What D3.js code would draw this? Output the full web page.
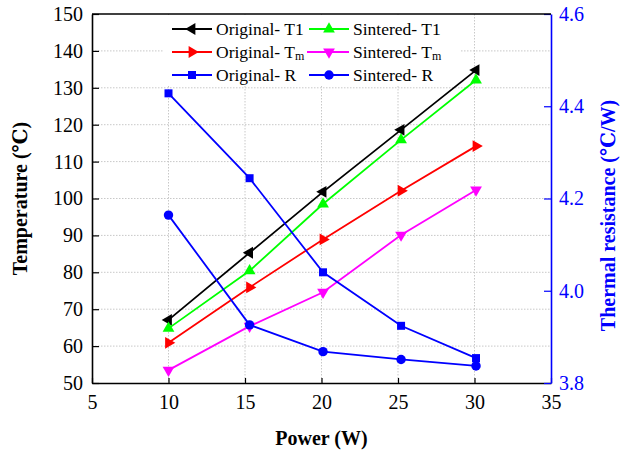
<!DOCTYPE html>
<html><head><meta charset="utf-8">
<script src="https://cdn.jsdelivr.net/npm/d3@7"></script>
<style>body{margin:0;background:#fff}svg{display:block}</style>
</head><body><svg id="c" width="621" height="454"></svg>
<script>
const power = [10, 15.3, 20.1, 25.2, 30.1];
const originalT1 = [67.1, 85.3, 101.8, 118.6, 134.8];
const sinteredT1 = [64.8, 80.4, 98.5, 115.9, 132.1];
const originalTm = [60.9, 75.9, 88.9, 102.1, 114.2];
const sinteredTm = [53.5, 65.4, 74.6, 90.1, 102.3];
const originalR = [4.428, 4.244, 4.040, 3.924, 3.854];
const sinteredR = [4.164, 3.926, 3.868, 3.851, 3.837];
const xTicks = [5, 10, 15, 20, 25, 30, 35];
const yTicks = [50, 60, 70, 80, 90, 100, 110, 120, 130, 140, 150];
const y2Ticks = [3.8, 4.0, 4.2, 4.4, 4.6];

const FONT = "'Liberation Serif', 'Times New Roman', 'DejaVu Serif', serif";
const svg = d3.select("#c");
const L = 92, R = 551, T = 14, B = 383;
const x = d3.scaleLinear().domain([5, 35]).range([L, R]);
const y = d3.scaleLinear().domain([50, 150]).range([B, T]);
const y2 = d3.scaleLinear().domain([3.8, 4.6]).range([B, T]);
const BLUE = "#0000ff";

// gridlines
const g = svg.append("g");
g.selectAll(".gy").data(yTicks.slice(1, -1)).enter().append("line")
  .attr("x1", L).attr("x2", R).attr("y1", d => y(d)).attr("y2", d => y(d))
  .attr("stroke", "#c8c8c8").attr("stroke-width", 1).attr("stroke-dasharray", "1.5,1.5");
g.selectAll(".gx").data(xTicks.slice(1, -1)).enter().append("line")
  .attr("y1", T).attr("y2", B).attr("x1", d => x(d)).attr("x2", d => x(d))
  .attr("stroke", "#c8c8c8").attr("stroke-width", 1).attr("stroke-dasharray", "1.5,1.5");

// axes
const fmt0 = d3.format("d");
const ax = svg.append("g").attr("transform", `translate(0,${B})`)
  .call(d3.axisBottom(x).tickValues(xTicks).tickFormat(fmt0).tickSizeInner(-5).tickSizeOuter(0).tickPadding(12));
const ay = svg.append("g").attr("transform", `translate(${L},0)`)
  .call(d3.axisLeft(y).tickValues(yTicks).tickFormat(fmt0).tickSizeInner(-7).tickSizeOuter(0).tickPadding(9));
const ay2 = svg.append("g").attr("transform", `translate(${R},0)`)
  .call(d3.axisRight(y2).tickValues(y2Ticks).tickFormat(d3.format(".1f")).tickSizeInner(-7).tickSizeOuter(0).tickPadding(8));
[ax, ay, ay2].forEach(a => {
  a.attr("font-family", FONT).attr("font-size", 20);
  a.selectAll("text").style("font-family", FONT).style("font-size", "20px").attr("fill", "#000");
  a.select(".domain").attr("stroke-width", 1.6);
  a.selectAll(".tick line").attr("stroke-width", 1.2);
});
ax.selectAll("text").attr("dy", "0.71em");
ay2.selectAll("text").attr("fill", BLUE);
ay2.select(".domain").attr("stroke", BLUE);
ay2.selectAll(".tick line").attr("stroke", BLUE);
svg.append("line").attr("x1", L).attr("x2", R).attr("y1", T).attr("y2", T).attr("stroke", "#000").attr("stroke-width", 1.6);

// legend background
svg.append("rect").attr("x", 163).attr("y", T + 1).attr("width", 297).attr("height", 70).attr("fill", "#fff");

// series
const symTri = d3.symbol().type(d3.symbolTriangle).size(60);
const symSq = d3.symbol().type(d3.symbolSquare).size(64);
const symCi = d3.symbol().type(d3.symbolCircle).size(70);
const series = [
  {name: "Original- T1", vals: originalT1, sc: y, color: "#000000", sym: symTri, rot: -90},
  {name: "Sintered- T1", vals: sinteredT1, sc: y, color: "#00ff00", sym: symTri, rot: 0},
  {name: "Original- Tm", vals: originalTm, sc: y, color: "#ff0000", sym: symTri, rot: 90},
  {name: "Sintered- Tm", vals: sinteredTm, sc: y, color: "#ff00ff", sym: symTri, rot: 180},
  {name: "Original- R", vals: originalR, sc: y2, color: BLUE, sym: symSq, rot: 0},
  {name: "Sintered- R", vals: sinteredR, sc: y2, color: BLUE, sym: symCi, rot: 0}
];
series.forEach(s => {
  const pts = power.map((p, i) => [p, s.vals[i]]);
  svg.append("path").datum(pts)
    .attr("d", d3.line().x(d => x(d[0])).y(d => s.sc(d[1])))
    .attr("fill", "none").attr("stroke", s.color).attr("stroke-width", 1.8);
  svg.selectAll(null).data(pts).enter().append("path")
    .attr("d", s.sym())
    .attr("transform", d => `translate(${x(d[0])},${s.sc(d[1])}) rotate(${s.rot})`)
    .attr("fill", s.color);
});

// legend
const legRows = [29, 52, 75];
const legCols = [{lx: 172, tx: 216}, {lx: 309, tx: 353}];
const legItems = [
  {s: series[0], main: "Original- T", sub: "1", subSmall: false, c: 0, r: 0},
  {s: series[1], main: "Sintered- T", sub: "1", subSmall: false, c: 1, r: 0},
  {s: series[2], main: "Original- T", sub: "m", subSmall: true, c: 0, r: 1},
  {s: series[3], main: "Sintered- T", sub: "m", subSmall: true, c: 1, r: 1},
  {s: series[4], main: "Original- R", sub: "", subSmall: false, c: 0, r: 2},
  {s: series[5], main: "Sintered- R", sub: "", subSmall: false, c: 1, r: 2}
];
legItems.forEach(it => {
  const cy = legRows[it.r], col = legCols[it.c];
  svg.append("line").attr("x1", col.lx - (it.r === 1 && it.c === 1 ? 2 : 0)).attr("x2", col.lx + 40).attr("y1", cy).attr("y2", cy)
    .attr("stroke", it.s.color).attr("stroke-width", 1.8);
  svg.append("path").attr("d", it.s.sym()).attr("transform", `translate(${col.lx + 20},${cy}) rotate(${it.s.rot})`).attr("fill", it.s.color);
  const t = svg.append("text").attr("x", col.tx).attr("y", cy).attr("dy", "0.35em")
    .style("font-family", FONT).style("font-size", "17.5px").attr("fill", "#000");
  t.append("tspan").text(it.main);
  if (it.sub) {
    if (it.subSmall) t.append("tspan").attr("dy", "0.15em").style("font-size", "12px").text(it.sub);
    else t.append("tspan").text(it.sub);
  }
});

// titles
svg.append("text").attr("x", (L + R) / 2).attr("y", 438).attr("dy", "0.35em").attr("text-anchor", "middle")
  .style("font-family", FONT).style("font-size", "20px").style("font-weight", "bold").text("Power (W)");
svg.append("text").attr("transform", `translate(20,${(T + B) / 2}) rotate(-90)`).attr("dy", "0.35em").attr("text-anchor", "middle")
  .style("font-family", FONT).style("font-size", "20px").style("font-weight", "bold").text("Temperature (℃)");
svg.append("text").attr("transform", `translate(608,${(T + B) / 2 + 17}) rotate(-90)`).attr("dy", "0.35em").attr("text-anchor", "middle")
  .style("font-family", FONT).style("font-size", "20px").style("font-weight", "bold").attr("fill", BLUE).text("Thermal resistance (℃/W)");
</script></body></html>
